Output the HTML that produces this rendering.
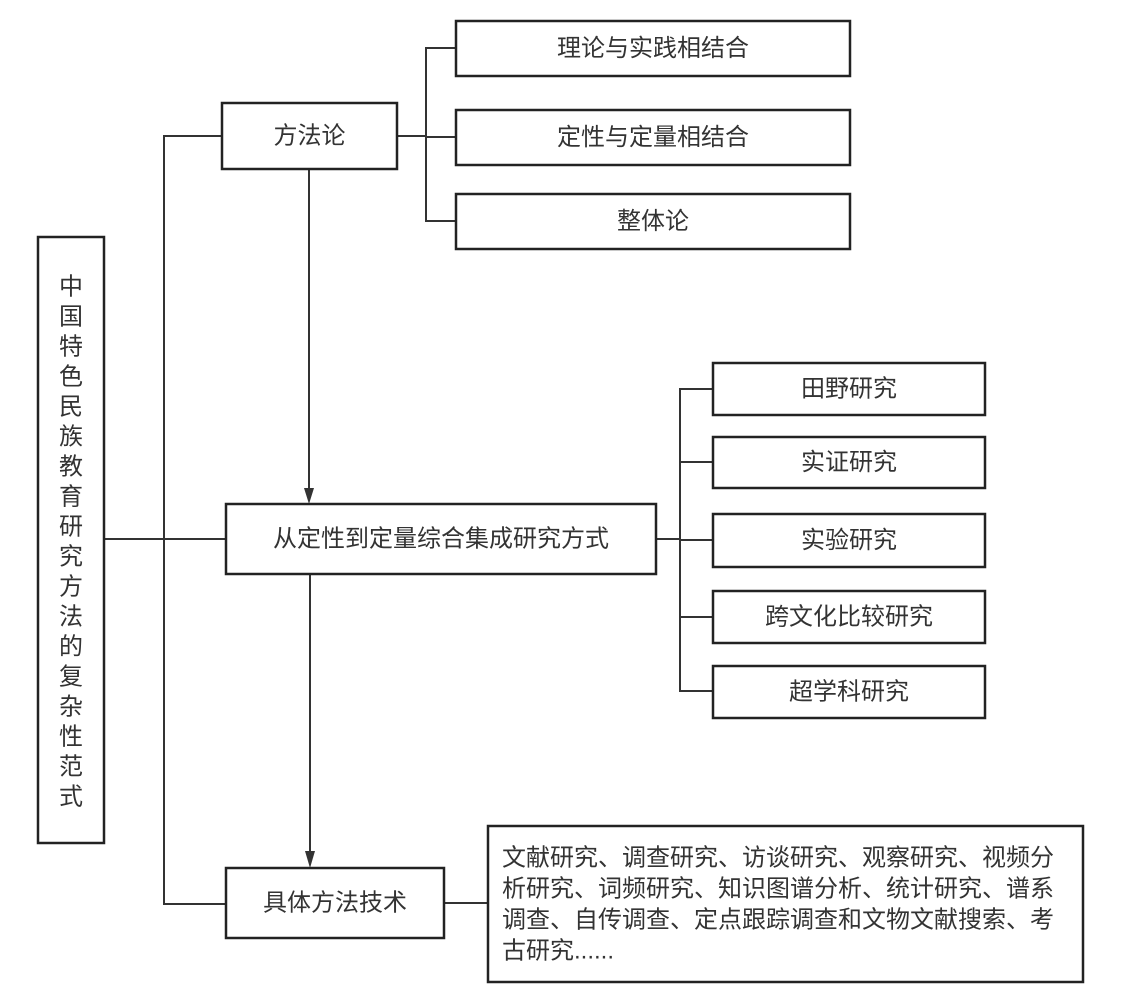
<!DOCTYPE html>
<html><head><meta charset="utf-8"><style>
html,body{margin:0;padding:0;background:#fff;}
svg{display:block;}
text{font-family:"Liberation Sans","Noto Sans CJK SC",sans-serif;font-size:24px;fill:#333;}
</style></head><body>
<svg width="1127" height="997" viewBox="0 0 1127 997" xmlns="http://www.w3.org/2000/svg">
<g fill="none" stroke="#333" stroke-width="2">
<polyline points="222,136 164,136 164,904 226,904"/>
<line x1="104" y1="539" x2="226" y2="539"/>
<line x1="397" y1="136" x2="426" y2="136"/>
<polyline points="456,48 426,48 426,221 456,221"/>
<line x1="426" y1="137" x2="456" y2="137"/>
<line x1="309" y1="169" x2="309" y2="490"/>
<line x1="310" y1="574" x2="310" y2="852"/>
<line x1="656" y1="539" x2="680" y2="539"/>
<polyline points="713,389 680,389 680,691 713,691"/>
<line x1="680" y1="462" x2="713" y2="462"/>
<line x1="680" y1="540" x2="713" y2="540"/>
<line x1="680" y1="617" x2="713" y2="617"/>
<line x1="444" y1="903" x2="488" y2="903"/>
</g>
<g fill="#333">
<polygon points="304,488 314,488 309,504"/>
<polygon points="305,851 315,851 310,868"/>
</g>
<g fill="#fff" stroke="#222" stroke-width="2.5">
<rect x="38" y="237" width="66" height="606"/>
<rect x="222" y="103" width="175" height="66"/>
<rect x="456" y="21" width="394" height="55"/>
<rect x="456" y="110" width="394" height="55"/>
<rect x="456" y="194" width="394" height="55"/>
<rect x="226" y="504" width="430" height="70"/>
<rect x="713" y="363" width="272" height="52"/>
<rect x="713" y="437" width="272" height="51"/>
<rect x="713" y="514" width="272" height="53"/>
<rect x="713" y="591" width="272" height="52"/>
<rect x="713" y="666" width="272" height="52"/>
<rect x="226" y="868" width="218" height="70"/>
<rect x="488" y="826" width="595" height="156"/>
</g>
<g text-anchor="middle" dominant-baseline="central">
<text x="309.5" y="136">方法论</text>
<text x="653" y="48.5">理论与实践相结合</text>
<text x="653" y="137.5">定性与定量相结合</text>
<text x="653" y="221.5">整体论</text>
<text x="441" y="539">从定性到定量综合集成研究方式</text>
<text x="849" y="389">田野研究</text>
<text x="849" y="462.5">实证研究</text>
<text x="849" y="540.5">实验研究</text>
<text x="849" y="617">跨文化比较研究</text>
<text x="849" y="692">超学科研究</text>
<text x="335" y="903">具体方法技术</text>
<text x="71" y="287">中</text>
<text x="71" y="317">国</text>
<text x="71" y="347">特</text>
<text x="71" y="377">色</text>
<text x="71" y="407">民</text>
<text x="71" y="437">族</text>
<text x="71" y="467">教</text>
<text x="71" y="497">育</text>
<text x="71" y="527">研</text>
<text x="71" y="557">究</text>
<text x="71" y="587">方</text>
<text x="71" y="617">法</text>
<text x="71" y="647">的</text>
<text x="71" y="677">复</text>
<text x="71" y="707">杂</text>
<text x="71" y="737">性</text>
<text x="71" y="767">范</text>
<text x="71" y="797">式</text>
</g>
<g dominant-baseline="central">
<text x="502" y="858">文献研究、调查研究、访谈研究、观察研究、视频分</text>
<text x="502" y="889">析研究、词频研究、知识图谱分析、统计研究、谱系</text>
<text x="502" y="920">调查、自传调查、定点跟踪调查和文物文献搜索、考</text>
<text x="502" y="951">古研究......</text>
</g>
</svg>
</body></html>
